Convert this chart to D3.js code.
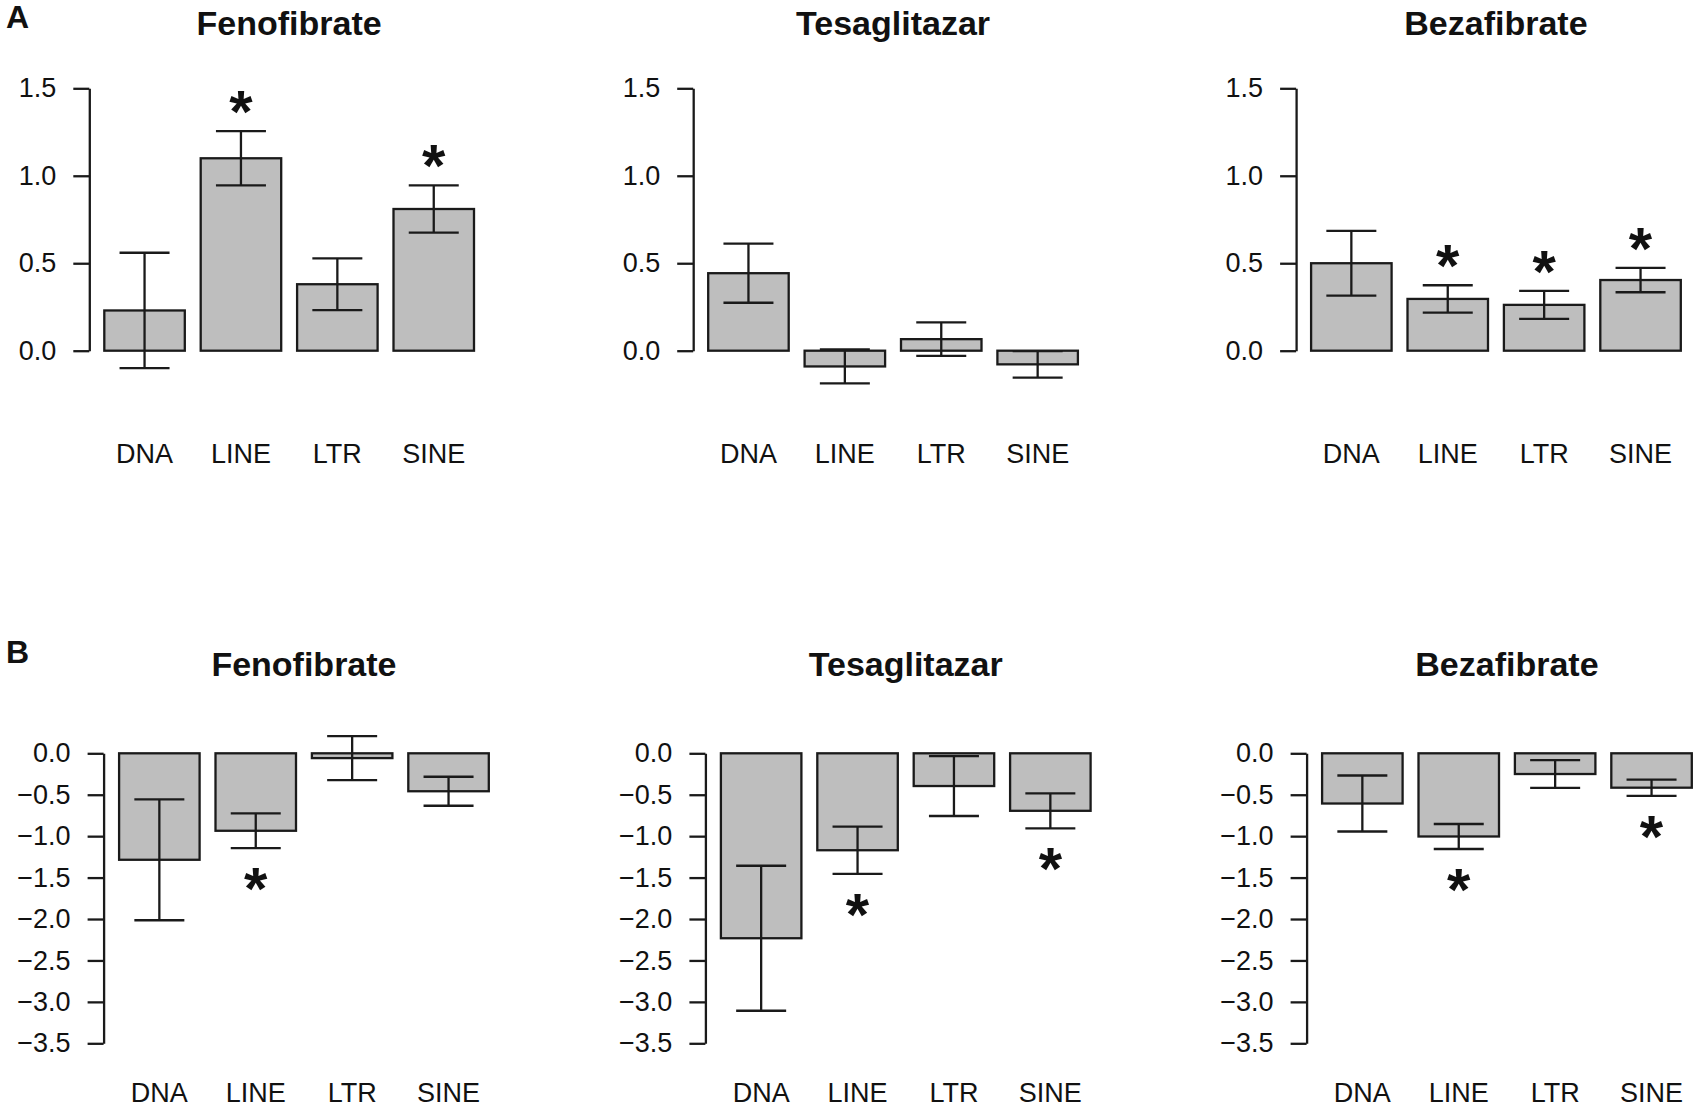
<!DOCTYPE html>
<html>
<head>
<meta charset="utf-8">
<style>
    body { margin: 0; background: #fff; }
    svg { display: block; }
    text { font-family: "Liberation Sans", Arial, Helvetica, sans-serif; fill: #111; }
    .title { font-weight: bold; font-size: 34px; }
    .letter { font-weight: bold; font-size: 32px; }
    .tick text { font-size: 27px; }
    .cat { font-size: 27px; }
    .star { font-weight: bold; font-size: 60px; }
</style>
</head>
<body>
<script src="https://cdnjs.cloudflare.com/ajax/libs/d3/7.8.5/d3.min.js"></script>
<script>
    const w = 1700, h = 1108;

    const categories = ["DNA", "LINE", "LTR", "SINE"];
    const drugs = ["Fenofibrate", "Tesaglitazar", "Bezafibrate"];

    // panel A: mean, error half-width, significance
    const fenoA      = [0.23, 1.10, 0.38, 0.81];
    const fenoA_err  = [0.33, 0.155, 0.148, 0.135];
    const fenoA_sig  = [false, true, false, true];
    const tesaA      = [0.443, -0.09, 0.066, -0.078];
    const tesaA_err  = [0.169, 0.097, 0.096, 0.076];
    const tesaA_sig  = [false, false, false, false];
    const bezaA      = [0.50, 0.296, 0.262, 0.404];
    const bezaA_err  = [0.185, 0.078, 0.08, 0.07];
    const bezaA_sig  = [false, true, true, true];

    // panel B
    const fenoB      = [-1.285, -0.935, -0.058, -0.458];
    const fenoB_err  = [0.73, 0.21, 0.265, 0.175];
    const fenoB_sig  = [false, true, false, false];
    const tesaB      = [-2.232, -1.17, -0.395, -0.694];
    const tesaB_err  = [0.875, 0.285, 0.362, 0.211];
    const tesaB_sig  = [false, true, false, true];
    const bezaB      = [-0.606, -1.004, -0.25, -0.415];
    const bezaB_err  = [0.338, 0.151, 0.167, 0.098];
    const bezaB_sig  = [false, true, false, true];

    const ticksA = [0, 0.5, 1.0, 1.5];
    const ticksB = [0, -0.5, -1.0, -1.5, -2.0, -2.5, -3.0, -3.5];

    // layout
    const step = 96.4, barW = 80.5, capHalf = 25, lw = 2.3;
    const rows = [
        { letter: "A", letterY: 28, titleY: 35, catY: 463, domain: [0, 1.5], range: [350.7, 88.3], ticks: ticksA,
          axisX: [89.3, 693.2, 1296.1], barOff: 15,
          series: [[fenoA, fenoA_err, fenoA_sig], [tesaA, tesaA_err, tesaA_sig], [bezaA, bezaA_err, bezaA_sig]] },
        { letter: "B", letterY: 663, titleY: 676, catY: 1101.5, domain: [0, -3.5], range: [753.3, 1043.3], ticks: ticksB,
          axisX: [103.6, 705.4, 1306.6], barOff: 15.5,
          series: [[fenoB, fenoB_err, fenoB_sig], [tesaB, tesaB_err, tesaB_sig], [bezaB, bezaB_err, bezaB_sig]] }
    ];

    const svg = d3.select('body')
                  .append('svg')
                  .attr('width', w)
                  .attr('height', h);

    rows.forEach(row => {
        svg.append('text')
           .attr('class', 'letter')
           .attr('x', 6)
           .attr('y', row.letterY)
           .text(row.letter);

        const y = d3.scaleLinear().domain(row.domain).range(row.range);

        row.series.forEach((s, p) => {
            const [vals, errs, sig] = s;
            const ax = row.axisX[p];
            const x0 = ax + row.barOff;
            const x = d3.scaleBand()
                        .domain(categories)
                        .range([x0, x0 + 3 * step + barW])
                        .paddingInner((step - barW) / step)
                        .paddingOuter(0);
            const data = categories.map((c, i) => ({ c: c, v: vals[i], e: errs[i], s: sig[i] }));
            const cx = d => x(d.c) + x.bandwidth() / 2;
            const g = svg.append('g');

            g.append('text')
             .attr('class', 'title')
             .attr('x', x0 + (3 * step + barW) / 2)
             .attr('y', row.titleY)
             .attr('text-anchor', 'middle')
             .text(drugs[p]);

            const axis = d3.axisLeft(y)
                           .tickValues(row.ticks)
                           .tickSize(16)
                           .tickSizeOuter(0)
                           .tickPadding(17)
                           .tickFormat(d3.format('.1f'));
            const ag = g.append('g')
                        .attr('transform', `translate(${ax},0)`)
                        .call(axis)
                        .attr('font-size', null)
                        .attr('font-family', null);
            ag.select('.domain').attr('stroke', '#1a1a1a').attr('stroke-width', lw);
            ag.selectAll('.tick line').attr('stroke', '#1a1a1a').attr('stroke-width', lw);
            ag.selectAll('.tick text').attr('fill', '#111');

            g.selectAll('rect.bar')
             .data(data)
             .enter()
             .append('rect')
             .attr('class', 'bar')
             .attr('x', d => x(d.c))
             .attr('width', x.bandwidth())
             .attr('y', d => Math.min(y(d.v), y(0)))
             .attr('height', d => Math.abs(y(d.v) - y(0)))
             .attr('fill', '#bebebe')
             .attr('stroke', '#1a1a1a')
             .attr('stroke-width', lw);

            // error bars
            const eb = g.selectAll('g.err')
                        .data(data)
                        .enter()
                        .append('g')
                        .attr('class', 'err')
                        .attr('stroke', '#1a1a1a')
                        .attr('stroke-width', lw);
            eb.append('line')
              .attr('x1', cx).attr('x2', cx)
              .attr('y1', d => y(d.v + d.e))
              .attr('y2', d => y(d.v - d.e));
            eb.append('line')
              .attr('x1', d => cx(d) - capHalf).attr('x2', d => cx(d) + capHalf)
              .attr('y1', d => y(d.v + d.e)).attr('y2', d => y(d.v + d.e));
            eb.append('line')
              .attr('x1', d => cx(d) - capHalf).attr('x2', d => cx(d) + capHalf)
              .attr('y1', d => y(d.v - d.e)).attr('y2', d => y(d.v - d.e));

            // significance stars: above the bar for positive, below for negative
            g.selectAll('text.star')
             .data(data.filter(d => d.s))
             .enter()
             .append('text')
             .attr('class', 'star')
             .attr('text-anchor', 'middle')
             .attr('x', cx)
             .attr('y', d => (d.v >= 0 ? y(d.v + d.e) - 30 : y(d.v - d.e) + 30) + 31)
             .text('*');

            g.selectAll('text.cat')
             .data(data)
             .enter()
             .append('text')
             .attr('class', 'cat')
             .attr('text-anchor', 'middle')
             .attr('x', cx)
             .attr('y', row.catY)
             .text(d => d.c);
        });
    });
</script>
</body>
</html>
